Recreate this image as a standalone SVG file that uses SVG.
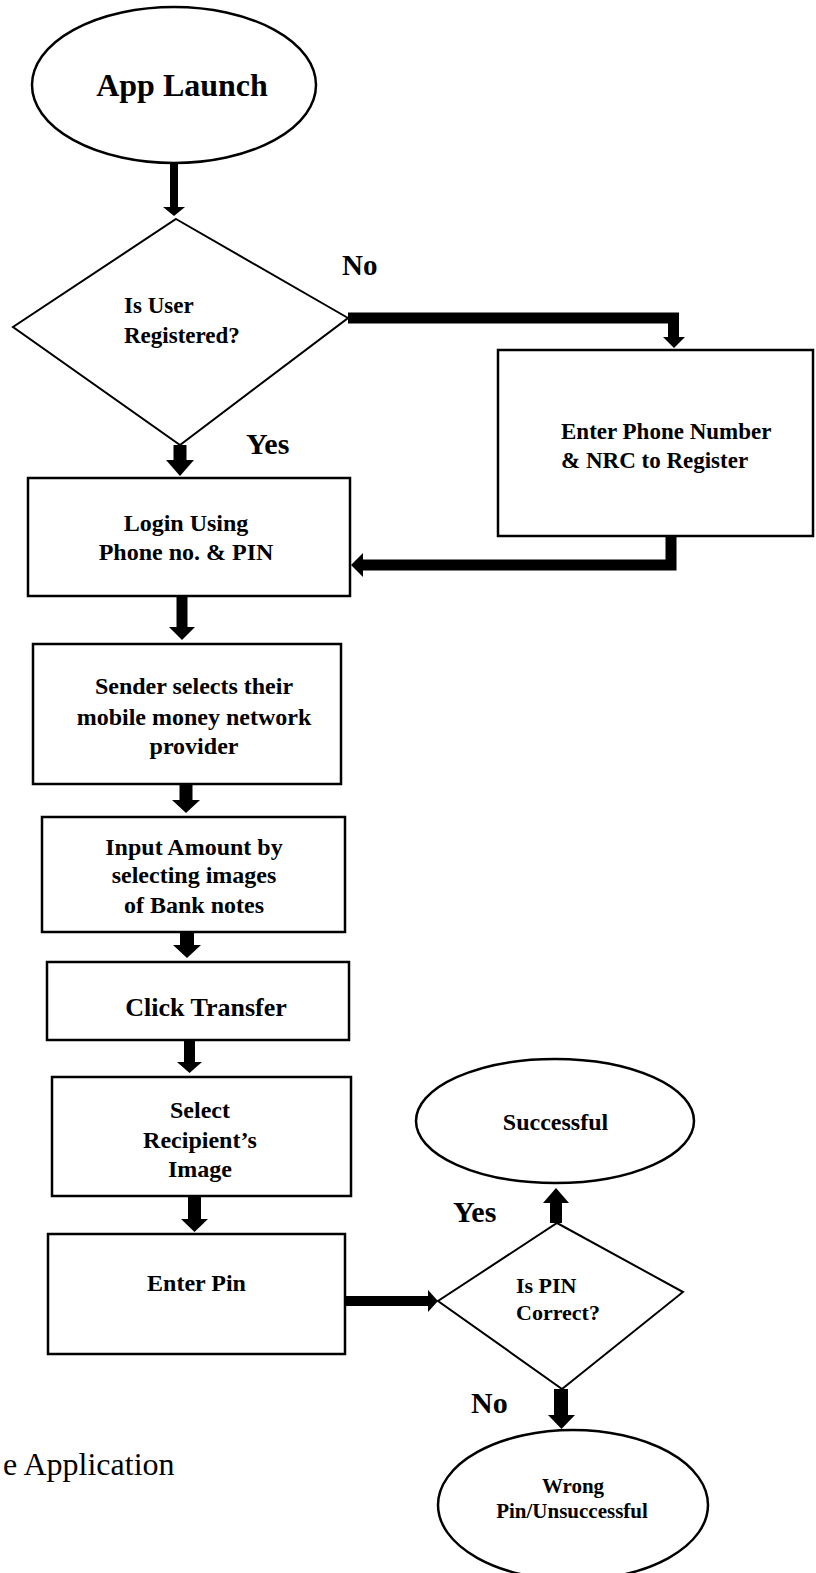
<svg xmlns="http://www.w3.org/2000/svg" width="816" height="1573" viewBox="0 0 816 1573">
<style>
  .shape { fill: #fff; stroke: #000; stroke-width: 2.5; }
  .dia { fill: #fff; stroke: #000; stroke-width: 2; }
  .t { font-family: "Liberation Serif", "Times New Roman", serif; font-weight: bold; fill: #000; }
  .c { text-anchor: middle; }
  .shaft { fill: none; stroke: #000; stroke-linejoin: miter; stroke-linecap: butt; }
  .head { fill: #000; stroke: none; }
  .plain { font-family: "Liberation Serif", "Times New Roman", serif; fill: #000; }
</style>
<rect x="0" y="0" width="816" height="1573" fill="#fff"/>

<g id="connectors">
  <line class="shaft" x1="174" y1="163" x2="174" y2="208" stroke-width="8"/>
  <polygon class="head" points="163,207 185,207 174,216"/>

  <line class="shaft" x1="180" y1="445" x2="180" y2="461" stroke-width="13"/>
  <polygon class="head" points="166,460 194,460 180,476"/>

  <polyline class="shaft" points="348,318 673.5,318 673.5,338" stroke-width="11"/>
  <polygon class="head" points="663,337 685,337 674,348"/>

  <polyline class="shaft" points="671,536 671,565 362,565" stroke-width="11"/>
  <polygon class="head" points="363,553 363,577 351,565"/>

  <line class="shaft" x1="182" y1="597" x2="182" y2="628" stroke-width="11"/>
  <polygon class="head" points="169,627 195,627 182,640"/>

  <line class="shaft" x1="186" y1="784" x2="186" y2="801" stroke-width="13"/>
  <polygon class="head" points="172,800 200,800 186,813"/>

  <line class="shaft" x1="187" y1="932" x2="187" y2="946" stroke-width="14"/>
  <polygon class="head" points="173,945 201,945 187,958"/>

  <line class="shaft" x1="189.5" y1="1040" x2="189.5" y2="1063" stroke-width="11"/>
  <polygon class="head" points="177,1062 202,1062 189.5,1073"/>

  <line class="shaft" x1="194.5" y1="1196" x2="194.5" y2="1220" stroke-width="13"/>
  <polygon class="head" points="181,1219 208,1219 194.5,1232"/>

  <line class="shaft" x1="345" y1="1301" x2="429" y2="1301" stroke-width="10"/>
  <polygon class="head" points="428,1290 428,1312 438,1301"/>

  <line class="shaft" x1="556" y1="1223" x2="556" y2="1202" stroke-width="12"/>
  <polygon class="head" points="543,1203 569,1203 556,1188"/>

  <line class="shaft" x1="561" y1="1389" x2="561" y2="1416" stroke-width="14"/>
  <polygon class="head" points="548,1415 575,1415 561.5,1429"/>
</g>

<g id="app-launch">
  <ellipse class="shape" cx="174" cy="85" rx="142" ry="78"/>
  <text class="t c" x="182" y="96" font-size="32">App Launch</text>
</g>

<g id="is-user-registered">
  <polygon class="dia" points="176,219 348,318 180,445 13,327"/>
  <text class="t" x="124" y="313" font-size="23">Is User</text>
  <text class="t" x="124" y="343" font-size="23">Registered?</text>
</g>

<g id="register">
  <rect class="shape" x="498" y="350" width="315" height="186"/>
  <text class="t" x="561" y="439" font-size="23">Enter Phone Number</text>
  <text class="t" x="561" y="468" font-size="23">&amp; NRC to Register</text>
</g>

<g id="login">
  <rect class="shape" x="28" y="478" width="322" height="118"/>
  <text class="t c" x="186" y="531" font-size="24">Login Using</text>
  <text class="t c" x="186" y="560" font-size="24">Phone no. &amp; PIN</text>
</g>

<g id="select-provider">
  <rect class="shape" x="33" y="644" width="308" height="140"/>
  <text class="t c" x="194" y="694" font-size="24">Sender selects their</text>
  <text class="t c" x="194" y="725" font-size="24">mobile money network</text>
  <text class="t c" x="194" y="754" font-size="24">provider</text>
</g>

<g id="input-amount">
  <rect class="shape" x="42" y="817" width="303" height="115"/>
  <text class="t c" x="194" y="855" font-size="24">Input Amount by</text>
  <text class="t c" x="194" y="883" font-size="24">selecting images</text>
  <text class="t c" x="194" y="913" font-size="24">of Bank notes</text>
</g>

<g id="click-transfer">
  <rect class="shape" x="47" y="962" width="302" height="78"/>
  <text class="t c" x="206" y="1016" font-size="26">Click Transfer</text>
</g>

<g id="select-recipient">
  <rect class="shape" x="52" y="1077" width="299" height="119"/>
  <text class="t c" x="200" y="1118" font-size="24">Select</text>
  <text class="t c" x="200" y="1148" font-size="24">Recipient’s</text>
  <text class="t c" x="200" y="1177" font-size="24">Image</text>
</g>

<g id="enter-pin">
  <rect class="shape" x="48" y="1234" width="297" height="120"/>
  <text class="t c" x="196.5" y="1291" font-size="24">Enter Pin</text>
</g>

<g id="is-pin-correct">
  <polygon class="dia" points="557,1223 683,1292 562,1389 438,1301"/>
  <text class="t" x="516" y="1293" font-size="22">Is PIN</text>
  <text class="t" x="516" y="1320" font-size="22">Correct?</text>
</g>

<g id="successful">
  <ellipse class="shape" cx="555" cy="1121" rx="139" ry="62"/>
  <text class="t c" x="555.5" y="1130" font-size="24">Successful</text>
</g>

<g id="wrong-pin">
  <ellipse class="shape" cx="573" cy="1505" rx="135" ry="75"/>
  <text class="t c" x="573" y="1493" font-size="21">Wrong</text>
  <text class="t c" x="572" y="1518" font-size="21">Pin/Unsuccessful</text>
</g>

<g id="labels">
  <text class="t" x="342" y="275" font-size="29">No</text>
  <text class="t" x="246" y="454" font-size="30">Yes</text>
  <text class="t" x="453" y="1222" font-size="30">Yes</text>
  <text class="t" x="471" y="1413" font-size="30">No</text>
</g>

<text class="plain" x="3" y="1475" font-size="32">e Application</text>
</svg>
